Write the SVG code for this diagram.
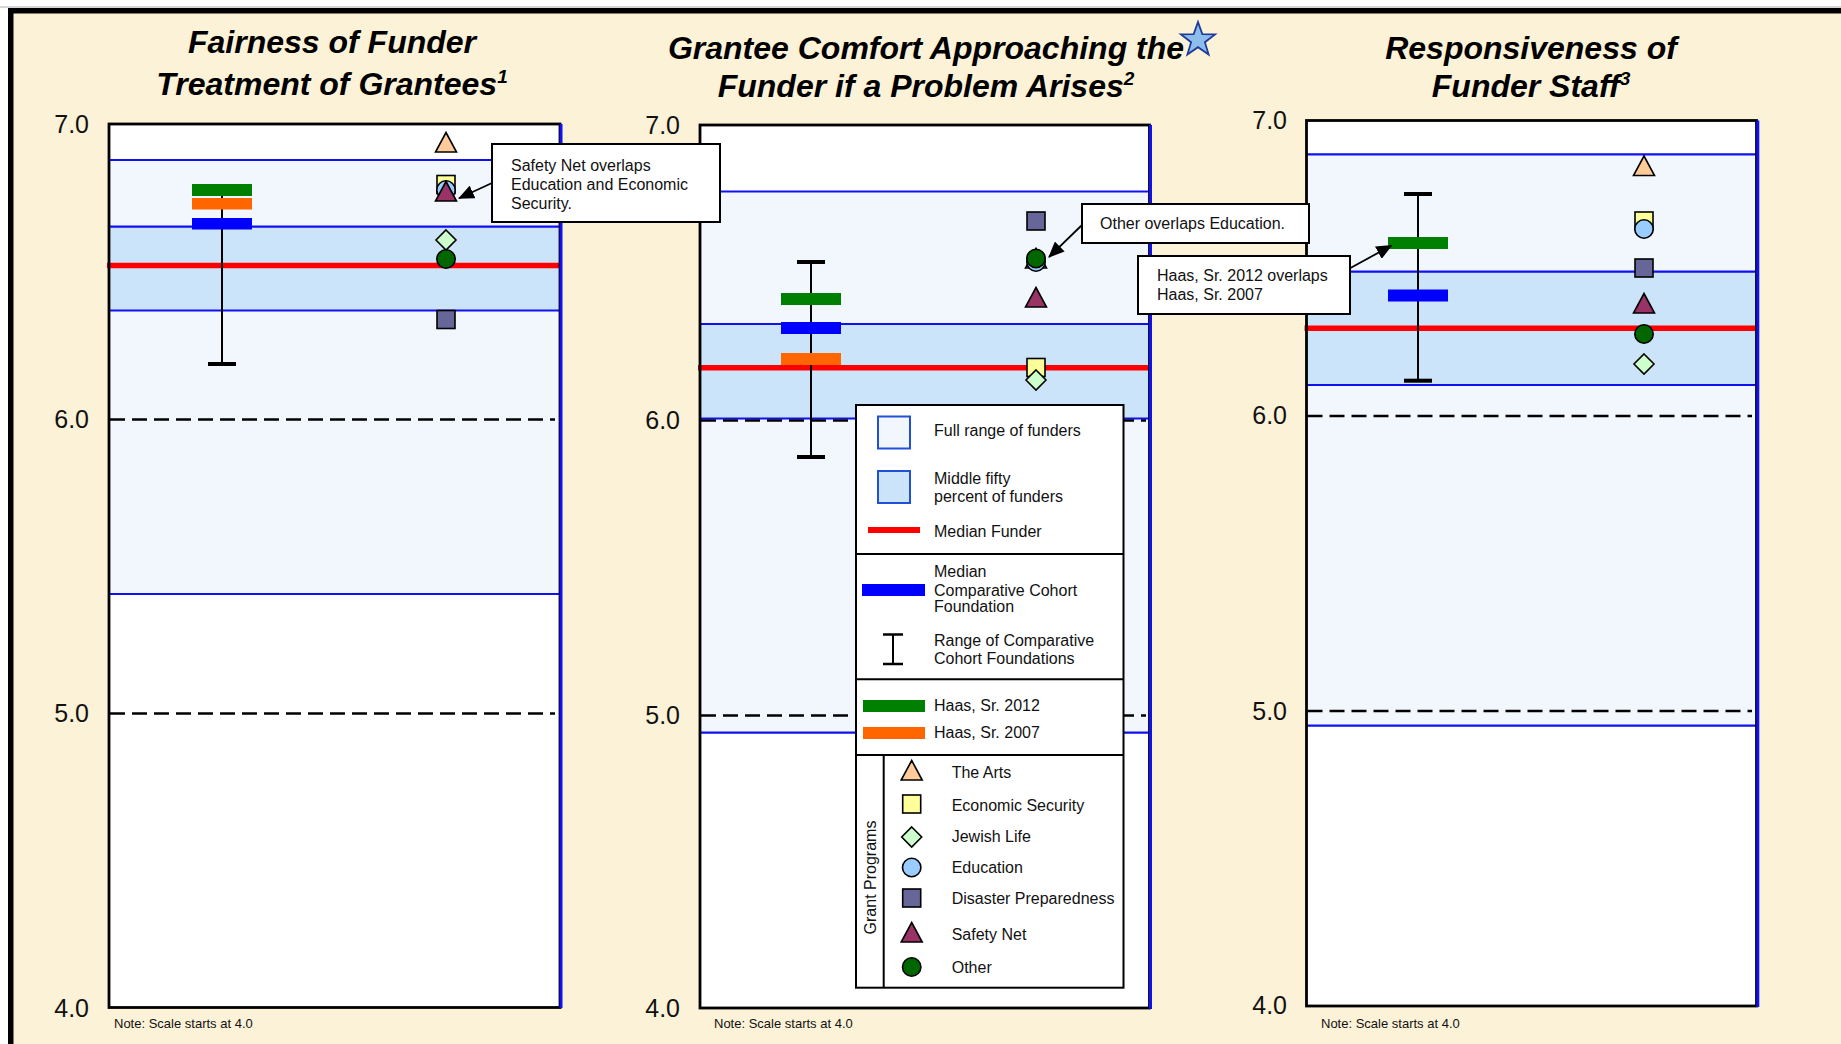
<svg xmlns="http://www.w3.org/2000/svg" width="1841" height="1044" viewBox="0 0 1841 1044">
<style>
.title{font-family:"Liberation Sans",Arial,sans-serif;font-weight:bold;font-style:italic;font-size:32px;fill:#000;text-anchor:middle}
.sup{font-size:19px}
.ax{font-family:"Liberation Sans",Arial,sans-serif;font-size:25px;fill:#111;text-anchor:end}
.note{font-family:"Liberation Sans",Arial,sans-serif;font-size:13px;fill:#111}
.lt{font-family:"Liberation Sans",Arial,sans-serif;font-size:16px;fill:#111}
.box{fill:#fff;stroke:none}
.full{fill:#F2F7FE}
.mid{fill:#CCE4FA}
.bl{stroke:#1010F0;stroke-width:2.2;fill:none}
.dash{stroke:#000;stroke-width:2.5;stroke-dasharray:15 7;fill:none}
.frame{fill:none;stroke:#000;stroke-width:2.8}
.rline{stroke:#1010F0;stroke-width:3}
.red{stroke:#FF0000;stroke-width:5.5}
.rng{stroke:#000;stroke-width:2;fill:none}
.cap{stroke:#000;stroke-width:4}
.g{fill:#008000}.o{fill:#FF6600}.b{fill:#0000FF}
.call{fill:#fff;stroke:#000;stroke-width:2}
.arr{stroke:#000;stroke-width:1.8;fill:none}
.sym{stroke:#000;stroke-width:1.6}
</style>
<defs>
<marker id="ah" markerWidth="16" markerHeight="14" refX="15" refY="7" orient="auto" markerUnits="userSpaceOnUse">
<path d="M0,0 L16,7 L0,14 Z" fill="#000"/>
</marker>
<polygon id="arts" class="sym" points="0,-10.5 10.5,9 -10.5,9" fill="#FFCC99"/>
<rect id="econ" class="sym" x="-9" y="-9" width="18" height="18" fill="#FFFF99"/>
<polygon id="jew" class="sym" points="0,-10 10,0 0,10 -10,0" fill="#CCFFCC"/>
<circle id="edu" class="sym" r="9.2" fill="#99CCFF"/>
<rect id="dis" class="sym" x="-9" y="-9" width="18" height="18" fill="#666699"/>
<polygon id="safe" class="sym" points="0,-10.5 10.5,9 -10.5,9" fill="#993366"/>
<circle id="oth" class="sym" r="9.2" fill="#006600"/>
</defs>

<!-- background -->
<rect x="0" y="0" width="1841" height="1044" fill="#fff"/>
<line x1="0" y1="7" x2="1841" y2="7" stroke="#c8c8c8" stroke-width="1.5"/>
<rect x="13" y="13" width="1828" height="1031" fill="#FCF2D7"/>
<rect x="8" y="8" width="1833" height="5.5" fill="#000"/>
<rect x="8" y="8" width="5.5" height="1036" fill="#000"/>

<!-- Chart 1 -->
<g id="chart1">
<text class="title" x="332" y="53">Fairness of Funder</text>
<text class="title" x="332" y="95">Treatment of Grantees<tspan class="sup" dy="-12">1</tspan></text>
<rect class="box" x="109" y="124" width="451" height="883.5"/>
<rect class="full" x="109" y="160" width="451" height="434"/>
<rect class="mid" x="109" y="226.7" width="451" height="83.8"/>
<line class="bl" x1="109" y1="160" x2="560" y2="160"/>
<line class="bl" x1="109" y1="594" x2="560" y2="594"/>
<line class="bl" x1="109" y1="226.7" x2="560" y2="226.7"/>
<line class="bl" x1="109" y1="310.5" x2="560" y2="310.5"/>
<line class="dash" x1="110" y1="419.5" x2="555" y2="419.5"/>
<line class="dash" x1="110" y1="713.5" x2="555" y2="713.5"/>
<line class="red" x1="107" y1="265.5" x2="562" y2="265.5"/>
<rect class="frame" x="109" y="124" width="451" height="883.5"/>
<line class="rline" x1="561" y1="124" x2="561" y2="1008"/>
<text class="ax" x="89" y="133">7.0</text>
<text class="ax" x="89" y="428">6.0</text>
<text class="ax" x="89" y="722">5.0</text>
<text class="ax" x="89" y="1017">4.0</text>
<text class="note" x="114" y="1028">Note: Scale starts at 4.0</text>
<line class="rng" x1="222" y1="186" x2="222" y2="364"/>
<line class="cap" x1="208" y1="364" x2="236" y2="364"/>
<rect class="g" x="192" y="184" width="60" height="12"/>
<rect class="o" x="192" y="198" width="60" height="11.5"/>
<rect class="b" x="192" y="218" width="60" height="11.5"/>
<use href="#arts" x="446" y="143"/>
<use href="#econ" x="446" y="184.5"/>
<use href="#edu" x="446" y="190"/>
<use href="#safe" x="446" y="192"/>
<use href="#jew" x="446" y="240"/>
<use href="#oth" x="446" y="259"/>
<use href="#dis" x="446" y="319.5"/>
</g>

<!-- Chart 2 -->
<g id="chart2">
<text class="title" x="926" y="59">Grantee Comfort Approaching the</text>
<text class="title" x="926" y="96.5">Funder if a Problem Arises<tspan class="sup" dy="-12">2</tspan></text>
<polygon points="1198,22 1202.3,34.1 1215.1,34.4 1204.9,42.2 1208.6,54.5 1198,47.2 1187.4,54.5 1191.1,42.2 1180.9,34.4 1193.7,34.1" fill="#8DBDEB" stroke="#1F3C9A" stroke-width="1.8"/>
<rect class="box" x="700" y="125" width="449.5" height="883"/>
<rect class="full" x="700" y="191.5" width="449.5" height="541.2"/>
<rect class="mid" x="700" y="324" width="449.5" height="95.5"/>
<line class="bl" x1="700" y1="191.5" x2="1149.5" y2="191.5"/>
<line class="bl" x1="700" y1="732.7" x2="1149.5" y2="732.7"/>
<line class="bl" x1="700" y1="324" x2="1149.5" y2="324"/>
<line class="bl" x1="700" y1="418.5" x2="1149.5" y2="418.5"/>
<line class="dash" x1="701" y1="420.5" x2="1146" y2="420.5"/>
<line class="dash" x1="701" y1="715.5" x2="1146" y2="715.5"/>
<line class="red" x1="698" y1="367.7" x2="1151.5" y2="367.7"/>
<rect class="frame" x="700" y="125" width="449.5" height="883"/>
<line class="rline" x1="1150.5" y1="125" x2="1150.5" y2="1009"/>
<text class="ax" x="680" y="133.5">7.0</text>
<text class="ax" x="680" y="428.5">6.0</text>
<text class="ax" x="680" y="724">5.0</text>
<text class="ax" x="680" y="1016.5">4.0</text>
<text class="note" x="714" y="1028">Note: Scale starts at 4.0</text>
<line class="rng" x1="811" y1="262" x2="811" y2="457"/>
<line class="cap" x1="797" y1="262" x2="825" y2="262"/>
<line class="cap" x1="797" y1="457" x2="825" y2="457"/>
<rect class="g" x="781" y="293" width="60" height="12"/>
<rect class="b" x="781" y="322" width="60" height="12"/>
<rect class="o" x="781" y="353" width="60" height="12"/>
<use href="#dis" x="1036" y="221"/>
<use href="#arts" x="1036" y="259"/>
<use href="#edu" x="1036" y="262"/>
<use href="#oth" x="1036" y="258.5"/>
<use href="#safe" x="1036" y="298"/>
<use href="#econ" x="1036" y="367.5"/>
<use href="#jew" x="1036" y="380"/>
</g>

<!-- Chart 3 -->
<g id="chart3">
<text class="title" x="1531" y="58.5">Responsiveness of</text>
<text class="title" x="1531" y="96.5">Funder Staff<tspan class="sup" dy="-12">3</tspan></text>
<rect class="box" x="1306.5" y="120.5" width="450" height="885.5"/>
<rect class="full" x="1306.5" y="154.3" width="450" height="571.3"/>
<rect class="mid" x="1306.5" y="271.7" width="450" height="113.3"/>
<line class="bl" x1="1306.5" y1="154.3" x2="1756.5" y2="154.3"/>
<line class="bl" x1="1306.5" y1="725.6" x2="1756.5" y2="725.6"/>
<line class="bl" x1="1306.5" y1="271.7" x2="1756.5" y2="271.7"/>
<line class="bl" x1="1306.5" y1="385" x2="1756.5" y2="385"/>
<line class="dash" x1="1307.5" y1="416" x2="1752" y2="416"/>
<line class="dash" x1="1307.5" y1="711" x2="1752" y2="711"/>
<line class="red" x1="1304.5" y1="328.3" x2="1758.5" y2="328.3"/>
<rect class="frame" x="1306.5" y="120.5" width="450" height="885.5"/>
<line class="rline" x1="1757.8" y1="120.5" x2="1757.8" y2="1007"/>
<text class="ax" x="1287" y="129">7.0</text>
<text class="ax" x="1287" y="424">6.0</text>
<text class="ax" x="1287" y="719.5">5.0</text>
<text class="ax" x="1287" y="1013.5">4.0</text>
<text class="note" x="1321" y="1028">Note: Scale starts at 4.0</text>
<line class="rng" x1="1418" y1="194" x2="1418" y2="380.7"/>
<line class="cap" x1="1404" y1="194" x2="1432" y2="194"/>
<line class="cap" x1="1404" y1="380.7" x2="1432" y2="380.7"/>
<rect class="o" x="1388" y="237" width="60" height="12"/>
<rect class="g" x="1388" y="237" width="60" height="12"/>
<rect class="b" x="1388" y="289.5" width="60" height="12"/>
<use href="#arts" x="1644" y="166.5"/>
<use href="#econ" x="1644" y="221"/>
<use href="#edu" x="1644" y="229"/>
<use href="#dis" x="1644" y="268"/>
<use href="#safe" x="1644" y="304"/>
<use href="#oth" x="1644" y="334"/>
<use href="#jew" x="1644" y="364"/>
</g>

<!-- Legend -->
<g id="legend">
<rect x="856" y="405" width="267.5" height="582.7" fill="#fff" stroke="#000" stroke-width="2"/>
<line x1="856" y1="554" x2="1123.5" y2="554" stroke="#000" stroke-width="2"/>
<line x1="856" y1="679.3" x2="1123.5" y2="679.3" stroke="#000" stroke-width="2"/>
<line x1="856" y1="755" x2="1123.5" y2="755" stroke="#000" stroke-width="2"/>
<line x1="883.7" y1="755" x2="883.7" y2="987.7" stroke="#000" stroke-width="2"/>
<rect x="878" y="416.5" width="32" height="32" fill="#F2F7FE" stroke="#2050D8" stroke-width="2"/>
<text class="lt" x="934" y="436">Full range of funders</text>
<rect x="878" y="471" width="32" height="32" fill="#CCE4FA" stroke="#2050D8" stroke-width="2"/>
<text class="lt" x="934" y="483.5">Middle fifty</text>
<text class="lt" x="934" y="502">percent of funders</text>
<line x1="868" y1="530" x2="920" y2="530" stroke="#FF0000" stroke-width="6"/>
<text class="lt" x="934" y="537">Median Funder</text>
<rect x="862" y="584" width="63" height="12" fill="#0000FF"/>
<text class="lt" x="934" y="577">Median</text>
<text class="lt" x="934" y="595.5">Comparative Cohort</text>
<text class="lt" x="934" y="612">Foundation</text>
<line x1="893" y1="634" x2="893" y2="664" stroke="#000" stroke-width="2"/>
<line x1="883" y1="634.5" x2="903" y2="634.5" stroke="#000" stroke-width="2.5"/>
<line x1="883" y1="664" x2="903" y2="664" stroke="#000" stroke-width="2.5"/>
<text class="lt" x="934" y="646">Range of Comparative</text>
<text class="lt" x="934" y="664">Cohort Foundations</text>
<rect x="863" y="700" width="62" height="12" fill="#008000"/>
<text class="lt" x="934" y="710.5">Haas, Sr. 2012</text>
<rect x="863" y="727" width="62" height="12" fill="#FF6600"/>
<text class="lt" x="934" y="738">Haas, Sr. 2007</text>
<text class="lt" transform="translate(875.5,877.5) rotate(-90)" text-anchor="middle">Grant Programs</text>
<use href="#arts" x="911.7" y="771"/>
<text class="lt" x="951.7" y="777.5">The Arts</text>
<use href="#econ" x="911.7" y="804"/>
<text class="lt" x="951.7" y="810.5">Economic Security</text>
<use href="#jew" x="911.7" y="837"/>
<text class="lt" x="951.7" y="842">Jewish Life</text>
<use href="#edu" x="911.7" y="867.5"/>
<text class="lt" x="951.7" y="873">Education</text>
<use href="#dis" x="911.7" y="898"/>
<text class="lt" x="951.7" y="904">Disaster Preparedness</text>
<use href="#safe" x="911.7" y="933"/>
<text class="lt" x="951.7" y="939.5">Safety Net</text>
<use href="#oth" x="911.7" y="967"/>
<text class="lt" x="951.7" y="973">Other</text>
</g>

<!-- Callouts -->
<g id="callout1">
<rect class="call" x="492" y="144" width="228" height="78"/>
<text class="lt" x="511" y="170.5">Safety Net overlaps</text>
<text class="lt" x="511" y="189.5">Education and Economic</text>
<text class="lt" x="511" y="208.5">Security.</text>
</g>
<g id="callout2">
<rect class="call" x="1082" y="204" width="227" height="39"/>
<text class="lt" x="1100" y="229">Other overlaps Education.</text>
</g>
<g id="callout3">
<rect class="call" x="1138" y="256" width="212" height="58"/>
<text class="lt" x="1157" y="281">Haas, Sr. 2012 overlaps</text>
<text class="lt" x="1157" y="300">Haas, Sr. 2007</text>
</g>

<g id="connectors">
<line class="arr" x1="492" y1="183" x2="459" y2="198.3" marker-end="url(#ah)"/>
<line class="arr" x1="1082" y1="225" x2="1049" y2="257" marker-end="url(#ah)"/>
<line class="arr" x1="1350" y1="268.3" x2="1391.5" y2="245.5" marker-end="url(#ah)"/>
</g>
</svg>
